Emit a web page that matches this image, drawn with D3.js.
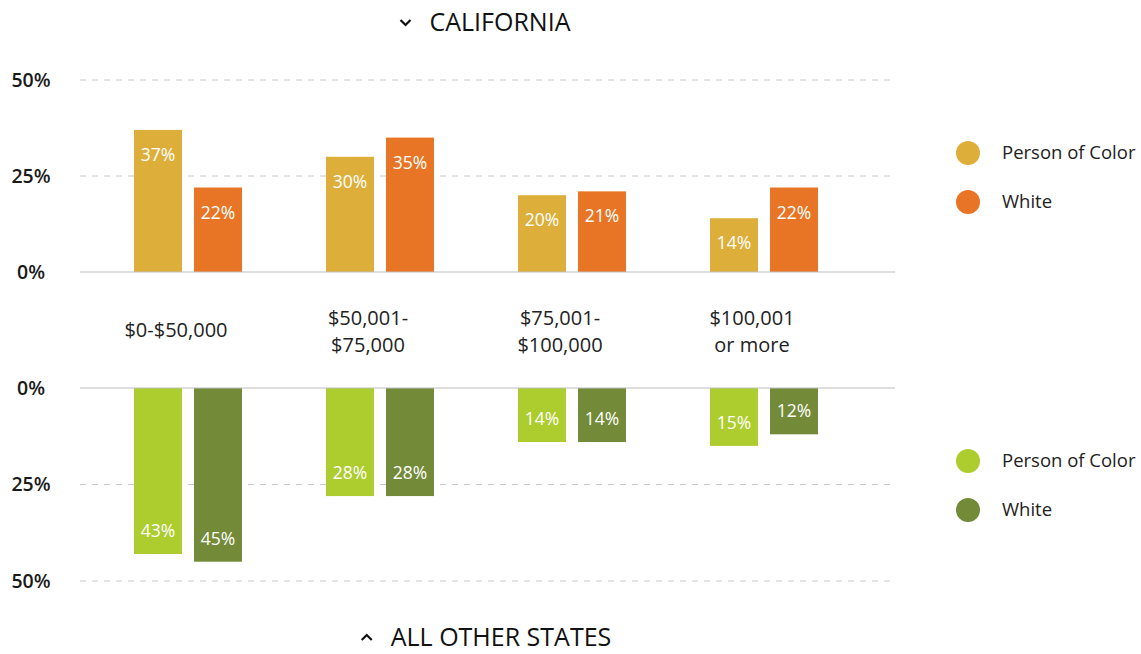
<!DOCTYPE html>
<html>
<head>
<meta charset="utf-8">
<script src="https://cdn.jsdelivr.net/npm/d3@7"></script>
<style>
  body { margin: 0; background: #fff; }
  svg { display: block; font-family: "Open Sans", Lato, sans-serif; }
  .tick line, .domain { display: none; }
</style>
</head>
<body>
<div id="chart"></div>
<script>
// data
const categories = ['$0-$50,000', '$50,001-\n$75,000', '$75,001-\n$100,000', '$100,001\nor more'];
const series = ['Person of Color', 'White'];
const caPoc = [37, 30, 20, 14];
const caWhite = [22, 35, 21, 22];
const otherPoc = [43, 28, 14, 15];
const otherWhite = [45, 28, 14, 12];
const tickValues = [0, 25, 50];

const caColors = ['#ddaf3a', '#e87525'];
const otherColors = ['#adcc2e', '#738a39'];

const width = 1141, height = 654;
const svg = d3.select('#chart').append('svg')
    .attr('width', width)
    .attr('height', height);

const gridLeft = 80, gridRight = 895;

const x0 = d3.scaleBand().domain(categories).range([92, 860]);
const x1 = d3.scaleBand().domain(series).range([0, 108]).paddingInner(0.2);
const groupOffset = (x0.bandwidth() - 108) / 2;

const yTop = d3.scaleLinear().domain([0, 50]).range([272, 80]);
const yBot = d3.scaleLinear().domain([0, 50]).range([388, 581]);

function rows(a, b) {
    return categories.map((c, i) => ({cat: c, vals: [a[i], b[i]]}));
}

function drawPanel(y, data, colors, down) {
    let g = svg.append('g');

    // gridlines
    g.selectAll('line.grid')
        .data(tickValues.filter(t => t !== 0))
        .enter().append('line')
        .attr('x1', gridLeft).attr('x2', gridRight)
        .attr('y1', d => y(d)).attr('y2', d => y(d))
        .attr('stroke', '#c8c8c8')
        .attr('stroke-dasharray', '6,6');

    // y axis labels
    let axis = g.append('g')
        .attr('transform', 'translate(31,0)')
        .call(d3.axisLeft(y).tickValues(tickValues).tickSize(0).tickPadding(0).tickFormat(d => d + '%'));
    axis.selectAll('text')
        .attr('text-anchor', 'middle')
        .attr('font-size', 19.5)
        .attr('font-weight', 600)
        .attr('fill', '#1a1a1a')
        .attr('font-family', '"Open Sans", sans-serif');

    // bars
    let groups = g.selectAll('g.grp')
        .data(data)
        .enter().append('g')
        .attr('transform', d => 'translate(' + (x0(d.cat) + groupOffset) + ',0)');

    groups.selectAll('rect')
        .data(d => d.vals.map((v, i) => ({s: series[i], v: v, i: i})))
        .enter().append('rect')
        .attr('x', d => x1(d.s))
        .attr('width', x1.bandwidth())
        .attr('y', d => down ? y(0) : y(d.v))
        .attr('height', d => Math.abs(y(d.v) - y(0)))
        .attr('fill', d => colors[d.i]);

    groups.selectAll('text')
        .data(d => d.vals.map((v, i) => ({s: series[i], v: v})))
        .enter().append('text')
        .attr('x', d => x1(d.s) + x1.bandwidth() / 2)
        .attr('y', d => down ? y(d.v) - 23 : y(d.v) + 25)
        .attr('dy', '0.35em')
        .attr('text-anchor', 'middle')
        .attr('font-size', 17.5)
        .attr('fill', '#fff')
        .text(d => d.v + '%');

    // zero line
    g.append('line')
        .attr('x1', gridLeft).attr('x2', gridRight)
        .attr('y1', y(0)).attr('y2', y(0))
        .attr('stroke', '#bdbdbd')
        .attr('stroke-width', 1);
}

drawPanel(yTop, rows(caPoc, caWhite), caColors, false);
drawPanel(yBot, rows(otherPoc, otherWhite), otherColors, true);

// category labels (sit a little left of the bar pairs)
const catG = svg.append('g');
categories.forEach(c => {
    let lines = c.split('\n');
    let cx = x0(c) + x0.bandwidth() / 2 - 12;
    let t = catG.append('text')
        .attr('text-anchor', 'middle')
        .attr('font-size', 20)
        .attr('fill', '#222');
    let startY = lines.length === 1 ? 330 : 318;
    lines.forEach((ln, i) => {
        t.append('tspan')
            .attr('x', cx)
            .attr('y', startY + i * 27)
            .attr('dy', '0.35em')
            .text(ln);
    });
});

// titles
function title(txt, yPos, up, cx) {
    let g = svg.append('g');
    let t = g.append('text')
        .attr('x', cx).attr('y', yPos).attr('dy', '0.35em')
        .attr('text-anchor', 'middle')
        .attr('font-size', 25)
        .attr('fill', '#111')
        .text(txt);
    let w = t.node().getComputedTextLength();
    let cxv = cx - w / 2 - 24, cyv = yPos;
    let pts = up ? [[cxv - 5, cyv + 3], [cxv, cyv - 2], [cxv + 5, cyv + 3]]
                 : [[cxv - 5, cyv - 2], [cxv, cyv + 3], [cxv + 5, cyv - 2]];
    g.append('path')
        .attr('d', d3.line()(pts))
        .attr('fill', 'none')
        .attr('stroke', '#111')
        .attr('stroke-width', 2.2);
}
title('CALIFORNIA', 22, false, 500);
title('ALL OTHER STATES', 637, true, 501);

// legends
function legend(colors, y0) {
    let g = svg.append('g').attr('transform', 'translate(968,' + y0 + ')');
    series.forEach((s, i) => {
        g.append('circle')
            .attr('cx', 0).attr('cy', i * 49)
            .attr('r', 12)
            .attr('fill', colors[i]);
        g.append('text')
            .attr('x', 34).attr('y', i * 49).attr('dy', '0.35em')
            .attr('font-size', 18.5)
            .attr('fill', '#222')
            .text(s);
    });
}
legend(caColors, 153);
legend(otherColors, 461);
</script>
</body>
</html>
